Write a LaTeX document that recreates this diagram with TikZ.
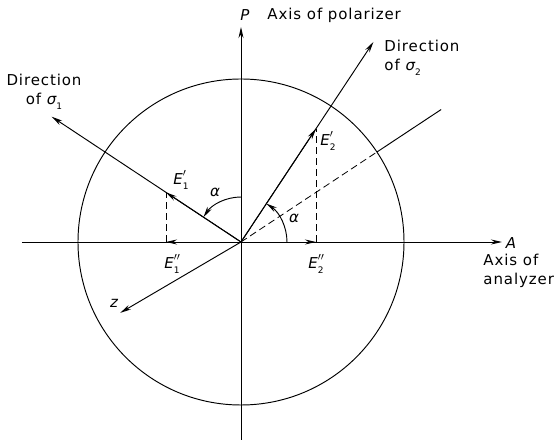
\documentclass[tikz,border=0pt]{standalone}
\usepackage{fontspec}
\setmainfont[LetterSpace=6]{DejaVu Sans}
\usetikzlibrary{arrows.meta}
\newcommand\EL[2]{{\itshape E}\rlap{\raisebox{0.35ex}{$^{#2}$}}\raisebox{-0.55ex}{\small #1}}
\newcommand\SG[1]{{\itshape σ}\raisebox{-0.55ex}{\small #1}}
\begin{document}
\begin{tikzpicture}[x=1pt,y=1pt,line width=0.95pt,
  arr/.style={-{Stealth[length=11pt,width=5pt]}},
  dsh/.style={line width=0.8pt, dash pattern=on 7pt off 4pt},
  lbl/.style={font=\fontsize{15}{19}\selectfont, inner sep=0pt}]
\useasboundingbox (-241,-201) rectangle (316,242);
\coordinate (O) at (0,0);
\node[draw, circle, minimum size=326pt, inner sep=0pt] (C) at (O) {};
% axes
\coordinate (Pb) at (0,-198);
\coordinate (Pt) at (0,215);
\coordinate (Al) at (-219,0);
\coordinate (Ar) at (261,0);
\draw[arr] (Pb) -- (Pt);
\draw[arr] (Al) -- (Ar);
% principal directions
\coordinate (S1) at (146.5:227);
\coordinate (S2) at (56.5:240);
\coordinate (Z) at (210.4:140);
\draw[arr] (O) -- (S1);
\draw[arr] (O) -- (S2);
\draw[arr] (O) -- (Z);
% dashed reference line
\coordinate (Dc) at (33.5:163);
\coordinate (De) at (33.5:240);
\draw[dsh] (O) -- (Dc);
\draw (Dc) -- (De);
% components
\coordinate (E1p) at (-75,49.6);
\coordinate (E1pp) at (-75,0);
\coordinate (E2p) at (75,113.3);
\coordinate (E2pp) at (75,0);
\draw[arr] (O) -- (E1p);
\draw[arr] (O) -- (E1pp);
\draw[arr] (O) -- (E2p);
\draw[arr] (O) -- (E2pp);
\draw[dsh] (E1pp) -- (E1p);
\draw[dsh] (E2pp) -- (E2p);
% angle arcs
\draw[arr] (90:45) arc[start angle=90, end angle=146.5, radius=45];
\draw[arr] (0:46) arc[start angle=0, end angle=56.5, radius=46];
% labels
\node[lbl] (Pl) at (4,227) {\itshape P};
\node[lbl, anchor=west] (Pax) at (26,227) {Axis of polarizer};
\node[lbl] (Al2) at (270,-1) {\itshape A};
\node[lbl, anchor=north west, align=left] (Aax) at (242,-12) {Axis of\\analyzer};
\node[lbl, align=center] (S1l) at (-197,150) {Direction\\of \SG{1}};
\node[lbl, anchor=west, align=left] (S2l) at (143,184) {Direction\\of \SG{2}};
\node[lbl] (E1pl) at (-60,62) {\EL{1}{\prime}};
\node[lbl] (E1ppl) at (-69,-22) {\EL{1}{\prime\prime}};
\node[lbl] (E2pl) at (87,101) {\EL{2}{\prime}};
\node[lbl] (E2ppl) at (75,-22) {\EL{2}{\prime\prime}};
\node[lbl] (a1) at (-26,50) {\itshape α};
\node[lbl] (a2) at (53,24) {\itshape α};
\node[lbl] (zl) at (-127,-61) {\itshape z};
\end{tikzpicture}
\end{document}
